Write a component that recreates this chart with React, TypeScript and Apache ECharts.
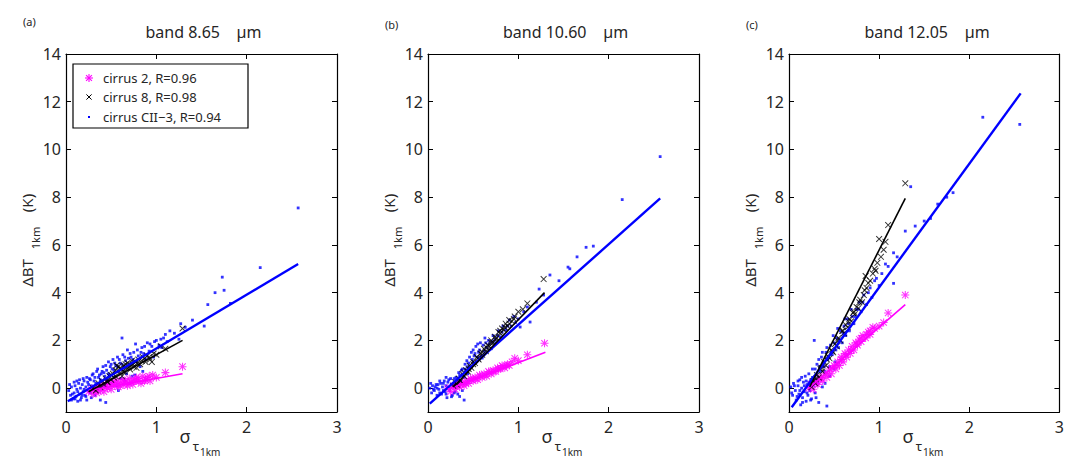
import React, { useEffect, useRef } from "react";
import * as echarts from "echarts";

const X_TICKS = [0, 1, 2, 3];
const Y_TICKS = [0, 2, 4, 6, 8, 10, 12, 14];
const BANDS = ["band 8.65", "band 10.60", "band 12.05"];
const UNIT = "\u00b5m";
const PANEL_LABELS = ["(a)", "(b)", "(c)"];
const SERIES_NAMES = ["cirrus 2, R=0.96", "cirrus 8, R=0.98", "cirrus CII\u22123, R=0.94"];

// Panel (a) band 8.65
const a_c2: number[][] = [[0.25,-0.15],[0.28,-0.05],[0.3,-0.25],[0.32,0.0],[0.34,-0.2],[0.36,0.05],[0.38,-0.1],[0.4,0.1],[0.42,-0.15],[0.44,0.15],[0.46,0.0],[0.48,0.2],[0.5,-0.05],[0.52,0.25],[0.54,0.1],[0.56,0.3],[0.58,0.05],[0.6,0.2],[0.62,0.35],[0.64,0.15],[0.66,0.3],[0.68,0.1],[0.7,0.4],[0.72,0.25],[0.74,0.15],[0.76,0.35],[0.78,0.45],[0.8,0.3],[0.83,0.2],[0.85,0.5],[0.88,0.35],[0.9,0.45],[0.93,0.3],[0.96,0.55],[1.0,0.45],[1.1,0.65],[1.29,0.9],[0.35,-0.1],[0.45,0.05],[0.5,0.15],[0.55,0.2],[0.6,0.1],[0.65,0.25],[0.7,0.2],[0.75,0.3],[0.8,0.4],[0.87,0.3],[0.92,0.5]];
const a_c8: number[][] = [[0.3,0.0],[0.33,-0.1],[0.36,0.2],[0.38,0.05],[0.4,0.3],[0.42,0.15],[0.44,0.4],[0.46,0.25],[0.48,0.5],[0.5,0.35],[0.52,0.6],[0.53,0.45],[0.55,0.75],[0.56,0.95],[0.58,0.9],[0.6,0.65],[0.61,0.8],[0.62,0.5],[0.64,0.95],[0.65,0.7],[0.67,0.85],[0.68,1.05],[0.71,0.78],[0.72,0.95],[0.73,1.15],[0.75,0.9],[0.77,1.1],[0.78,0.85],[0.8,1.2],[0.82,1.0],[0.85,1.3],[0.88,1.1],[0.9,1.35],[0.93,1.2],[0.95,1.1],[0.97,1.45],[1.0,1.4],[1.05,1.75],[1.1,1.65],[1.29,2.5],[0.45,0.3],[0.5,0.55],[0.55,0.5],[0.6,0.85],[0.63,0.7],[0.66,1.0],[0.7,0.9],[0.74,1.0],[0.79,1.05],[0.84,1.15],[0.87,1.25],[0.92,1.3]];
const a_cii: number[][] = [[0.03,-0.1],[0.05,-0.3],[0.06,0.05],[0.08,-0.45],[0.09,-0.2],[0.1,0.1],[0.11,-0.35],[0.12,-0.05],[0.13,-0.55],[0.14,0.2],[0.15,-0.25],[0.16,0.0],[0.17,-0.4],[0.18,0.15],[0.19,-0.15],[0.2,0.3],[0.21,-0.3],[0.22,0.05],[0.23,-0.5],[0.24,0.25],[0.25,-0.1],[0.26,0.4],[0.27,-0.2],[0.28,0.1],[0.29,0.55],[0.3,-0.05],[0.31,0.3],[0.32,-0.3],[0.33,0.2],[0.34,0.7],[0.35,0.0],[0.36,0.45],[0.37,0.15],[0.38,-0.5],[0.39,0.6],[0.4,0.3],[0.41,0.9],[0.42,0.1],[0.43,0.5],[0.44,-0.6],[0.45,0.75],[0.46,0.35],[0.47,1.1],[0.48,0.55],[0.5,0.2],[0.51,0.8],[0.52,1.2],[0.53,0.45],[0.55,0.95],[0.56,0.1],[0.57,1.3],[0.58,0.7],[0.6,1.05],[0.61,0.4],[0.62,2.1],[0.63,1.4],[0.64,0.85],[0.66,1.15],[0.67,0.6],[0.68,1.6],[0.7,1.0],[0.72,1.3],[0.73,0.5],[0.75,1.5],[0.77,1.85],[0.78,1.1],[0.8,1.35],[0.82,0.9],[0.84,1.7],[0.86,1.45],[0.88,1.2],[0.9,1.9],[0.92,1.55],[0.95,1.75],[0.97,1.3],[1.0,2.0],[1.03,1.8],[1.06,1.7],[1.08,2.1],[1.12,1.95],[1.2,2.3],[1.25,2.05],[1.27,2.7],[1.32,2.55],[1.4,2.85],[1.53,2.6],[1.57,3.5],[1.65,4.0],[1.73,4.65],[1.75,4.1],[1.82,3.55],[2.15,5.05],[2.57,7.55],
  [0.04,0.15],[0.06,-0.5],[0.07,-0.25],[0.09,0.25],[0.1,-0.45],[0.12,0.3],[0.13,-0.15],[0.15,0.35],[0.16,-0.5],[0.18,-0.3],[0.19,0.4],[0.2,-0.05],[0.22,-0.35],[0.23,0.45],[0.25,0.15],[0.27,0.35],[0.28,-0.4],[0.3,0.6],[0.32,0.45],[0.33,-0.1],[0.35,0.8],[0.37,0.55],[0.38,0.35],[0.4,0.7],[0.42,0.65],[0.44,0.95],[0.45,0.25],[0.47,0.6],[0.49,0.9],[0.5,1.0],[0.53,0.75],[0.54,1.05],[0.57,0.9],[0.59,1.2],[0.62,1.0],[0.65,1.3],[0.69,1.25],[0.71,1.45],[0.74,1.2],[0.79,1.6],[0.83,1.5],[0.87,1.75],[0.93,1.85],[0.98,1.95],[1.05,2.05],[1.1,2.25],[1.15,2.4],[0.58,-0.1],[0.65,0.3],[0.7,0.2],[0.76,0.55],[0.85,0.7]];
const a_fit_c2: number[][] = [[0.25,-0.1],[1.29,0.6]];
const a_fit_c8: number[][] = [[0.25,-0.15],[1.29,2.0]];
const a_fit_cii: number[][] = [[0.02,-0.55],[2.57,5.2]];

// Panel (b) band 10.60
const b_c2: number[][] = [[0.22,0.0],[0.25,-0.15],[0.28,0.1],[0.3,-0.05],[0.33,0.15],[0.35,0.05],[0.38,0.2],[0.4,0.1],[0.42,0.3],[0.45,0.2],[0.47,0.4],[0.5,0.3],[0.52,0.45],[0.55,0.35],[0.57,0.55],[0.6,0.45],[0.62,0.6],[0.65,0.5],[0.67,0.7],[0.7,0.6],[0.72,0.75],[0.75,0.7],[0.77,0.85],[0.8,0.8],[0.82,0.95],[0.85,0.85],[0.88,1.0],[0.9,0.95],[0.93,1.1],[0.96,1.25],[1.0,1.15],[1.1,1.4],[1.29,1.88],[0.3,0.1],[0.36,0.15],[0.42,0.2],[0.48,0.35],[0.53,0.4],[0.58,0.5],[0.63,0.55],[0.68,0.65],[0.73,0.7],[0.78,0.8],[0.83,0.9],[0.87,0.95]];
const b_c8: number[][] = [[0.28,0.1],[0.3,0.25],[0.32,0.15],[0.34,0.4],[0.36,0.3],[0.38,0.6],[0.4,0.5],[0.42,0.75],[0.44,0.7],[0.46,0.95],[0.48,0.85],[0.5,1.1],[0.52,1.05],[0.54,1.3],[0.56,1.2],[0.58,1.45],[0.6,1.4],[0.62,1.65],[0.64,1.55],[0.66,1.8],[0.68,1.75],[0.7,2.0],[0.72,1.9],[0.74,2.15],[0.76,2.1],[0.78,2.35],[0.8,2.3],[0.82,2.5],[0.84,2.45],[0.86,2.7],[0.88,2.6],[0.9,2.85],[0.93,2.8],[0.96,3.0],[1.0,3.2],[1.05,3.3],[1.1,3.55],[1.28,4.57],[0.4,0.65],[0.45,0.8],[0.5,1.0],[0.55,1.25],[0.6,1.5],[0.65,1.7],[0.7,1.9],[0.75,2.05],[0.8,2.4],[0.85,2.55],[0.9,2.7],[0.95,2.9]];
const b_cii: number[][] = [[0.02,0.0],[0.04,-0.2],[0.05,0.1],[0.07,-0.1],[0.08,0.05],[0.1,-0.3],[0.11,0.15],[0.12,-0.05],[0.14,0.2],[0.15,-0.25],[0.16,0.05],[0.18,0.3],[0.19,-0.15],[0.2,0.1],[0.21,-0.4],[0.22,0.25],[0.24,-0.1],[0.25,0.4],[0.26,-0.36],[0.27,-0.3],[0.28,0.2],[0.3,-0.15],[0.31,0.45],[0.32,0.1],[0.34,0.65],[0.35,-0.35],[0.36,0.3],[0.38,0.8],[0.39,0.5],[0.4,-0.5],[0.41,1.0],[0.42,0.7],[0.43,1.15],[0.44,0.9],[0.46,1.3],[0.47,0.85],[0.48,1.5],[0.5,1.1],[0.52,1.45],[0.53,1.75],[0.55,1.3],[0.57,1.6],[0.58,1.9],[0.6,1.26],[0.61,1.8],[0.63,2.1],[0.65,1.7],[0.67,2.0],[0.7,1.65],[0.72,2.2],[0.75,1.9],[0.78,2.4],[0.8,2.15],[0.83,2.6],[0.86,2.45],[0.9,2.85],[0.92,2.6],[0.95,3.0],[1.0,2.9],[1.02,2.56],[1.06,3.2],[1.13,2.77],[1.1,3.4],[1.2,3.6],[1.23,4.15],[1.28,3.9],[1.35,4.74],[1.45,4.5],[1.55,5.07],[1.57,5.0],[1.65,5.5],[1.75,5.9],[1.83,5.95],[2.15,7.9],[2.57,9.7],
  [0.03,0.2],[0.06,-0.05],[0.09,0.15],[0.1,0.0],[0.13,-0.2],[0.13,0.3],[0.17,-0.1],[0.17,0.2],[0.2,-0.25],[0.23,0.0],[0.23,0.35],[0.26,0.15],[0.29,0.4],[0.29,-0.2],[0.31,0.1],[0.33,0.3],[0.35,0.55],[0.37,0.2],[0.37,0.75],[0.4,0.45],[0.41,0.8],[0.44,0.6],[0.45,1.05],[0.48,0.9],[0.49,1.2],[0.51,1.35],[0.54,1.1],[0.56,1.5],[0.59,1.35],[0.62,1.55],[0.64,1.9],[0.68,1.85],[0.71,1.95],[0.74,2.05],[0.77,2.2],[0.82,2.35],[0.88,2.6],[0.97,2.75],[0.55,1.85],[0.5,1.6],[0.45,0.3],[0.42,0.2],[0.38,-0.1],[0.33,-0.25],[0.2,0.45]];
const b_fit_c2: number[][] = [[0.22,-0.05],[1.3,1.5]];
const b_fit_c8: number[][] = [[0.28,0.05],[1.29,4.0]];
const b_fit_cii: number[][] = [[0.02,-0.65],[2.57,7.95]];

// Panel (c) band 12.05
const c_c2: number[][] = [[0.22,0.0],[0.25,0.15],[0.27,-0.05],[0.3,0.3],[0.32,0.15],[0.35,0.45],[0.37,0.3],[0.4,0.6],[0.42,0.45],[0.45,0.8],[0.47,0.6],[0.5,0.95],[0.52,0.8],[0.54,1.1],[0.56,0.95],[0.58,1.3],[0.6,1.1],[0.62,1.45],[0.64,1.3],[0.66,1.6],[0.68,1.45],[0.7,1.75],[0.72,1.6],[0.74,1.9],[0.76,1.8],[0.78,2.05],[0.8,1.95],[0.82,2.2],[0.85,2.1],[0.88,2.35],[0.9,2.25],[0.93,2.55],[0.95,2.5],[1.0,2.6],[1.05,2.75],[1.1,3.15],[1.29,3.9],[0.3,0.2],[0.36,0.4],[0.43,0.6],[0.48,0.85],[0.53,0.95],[0.58,1.2],[0.63,1.4],[0.69,1.6],[0.75,1.85],[0.8,2.1],[0.86,2.25],[0.9,2.4]];
const c_c8: number[][] = [[0.25,0.05],[0.27,0.3],[0.29,0.2],[0.31,0.55],[0.33,0.45],[0.35,0.8],[0.37,0.7],[0.39,1.1],[0.41,0.95],[0.43,1.35],[0.45,1.25],[0.47,1.6],[0.49,1.5],[0.51,1.85],[0.53,1.75],[0.55,2.1],[0.57,2.0],[0.59,2.4],[0.61,2.3],[0.63,2.65],[0.65,2.55],[0.67,2.9],[0.69,2.8],[0.71,3.15],[0.73,3.1],[0.75,3.4],[0.77,3.35],[0.79,3.7],[0.81,3.6],[0.83,3.9],[0.85,4.7],[0.86,4.2],[0.9,4.5],[0.93,4.8],[0.96,4.92],[0.98,5.25],[1.0,6.25],[1.02,5.5],[1.05,5.8],[1.07,6.13],[1.1,6.83],[1.29,8.58],[0.3,0.4],[0.36,0.85],[0.42,1.2],[0.48,1.55],[0.54,2.0],[0.6,2.4],[0.66,2.8],[0.72,3.2],[0.78,3.6],[0.84,4.1],[0.88,4.4],[0.95,5.0]];
const c_cii: number[][] = [[0.02,0.05],[0.04,-0.3],[0.05,0.2],[0.07,-0.1],[0.08,-0.5],[0.1,0.1],[0.11,-0.25],[0.12,0.35],[0.13,-0.7],[0.14,0.0],[0.15,-0.4],[0.16,0.25],[0.17,-0.15],[0.18,0.5],[0.19,-0.55],[0.2,0.15],[0.21,-0.3],[0.22,0.6],[0.23,-0.1],[0.24,0.35],[0.25,-0.45],[0.26,0.8],[0.27,0.1],[0.28,2.0],[0.29,-0.2],[0.3,0.55],[0.31,1.0],[0.32,0.2],[0.33,-0.6],[0.34,0.9],[0.35,0.4],[0.36,1.3],[0.37,0.05],[0.38,1.1],[0.4,0.7],[0.41,1.5],[0.42,-0.75],[0.43,1.2],[0.45,0.9],[0.46,1.8],[0.48,1.4],[0.5,1.9],[0.51,1.1],[0.53,2.1],[0.55,1.7],[0.57,2.4],[0.59,1.9],[0.61,2.6],[0.63,2.2],[0.65,2.9],[0.67,2.4],[0.7,3.0],[0.72,2.7],[0.75,3.3],[0.78,3.6],[0.8,3.2],[0.83,3.9],[0.86,3.5],[0.9,4.2],[0.95,4.5],[1.0,4.3],[1.07,5.2],[1.16,5.67],[1.16,4.39],[1.2,5.5],[1.29,6.58],[1.35,8.44],[1.4,6.79],[1.5,7.0],[1.57,7.11],[1.65,7.71],[1.75,8.0],[1.82,8.19],[2.15,11.35],[2.56,11.05],
  [0.03,-0.2],[0.06,0.1],[0.09,-0.35],[0.1,0.3],[0.12,-0.1],[0.14,0.45],[0.15,-0.6],[0.17,0.1],[0.19,0.3],[0.2,-0.2],[0.22,0.25],[0.24,-0.5],[0.26,0.45],[0.28,0.2],[0.29,0.8],[0.31,0.3],[0.33,1.2],[0.35,0.7],[0.37,1.5],[0.39,0.9],[0.42,1.7],[0.44,1.3],[0.47,1.5],[0.49,2.2],[0.52,1.6],[0.54,2.5],[0.56,2.0],[0.6,2.3],[0.62,2.9],[0.66,2.7],[0.69,3.3],[0.73,3.0],[0.77,3.3],[0.82,3.6],[0.88,4.0],[0.92,3.8],[0.97,4.6],[1.03,4.8],[1.1,5.1],[0.3,-0.4],[0.4,0.2],[0.45,0.5],[0.5,0.8]];
const c_fit_c2: number[][] = [[0.22,0.0],[1.29,3.5]];
const c_fit_c8: number[][] = [[0.23,0.05],[1.29,7.95]];
const c_fit_cii: number[][] = [[0.03,-0.8],[2.57,12.35]];

const PANELS = [
  { c2: a_c2, c8: a_c8, cii: a_cii, f2: a_fit_c2, f8: a_fit_c8, fcii: a_fit_cii },
  { c2: b_c2, c8: b_c8, cii: b_cii, f2: b_fit_c2, f8: b_fit_c8, fcii: b_fit_cii },
  { c2: c_c2, c8: c_c8, cii: c_cii, f2: c_fit_c2, f8: c_fit_c8, fcii: c_fit_cii },
];

const GRID_LEFT = [66, 428, 789];
const GRID_WIDTH = [271, 271, 272];
const GRID_TOP = 54;
const GRID_HEIGHT = 358;

const MAGENTA = "#ff00ff";
const BLUE = "#0000ff";
const BLACK = "#000000";
const TEXT = "#262626";
const FONT = "Noto Sans";

const ASTERISK =
  "path://M8.7 0L11.3 0L11.3 20L8.7 20Z M0 8.7L20 8.7L20 11.3L0 11.3Z M2.92 1.08L18.92 17.08L17.08 18.92L1.08 2.92Z M17.08 1.08L18.92 2.92L2.92 18.92L1.08 17.08Z";
const XMARK =
  "path://M2.92 1.08L18.92 17.08L17.08 18.92L1.08 2.92Z M17.08 1.08L18.92 2.92L2.92 18.92L1.08 17.08Z";

export default function App() {
  const ref = useRef<HTMLDivElement>(null);

  useEffect(() => {
    if (!ref.current) return;
    const chart = echarts.init(ref.current, null, { renderer: "svg" });

    const grids: any[] = [];
    const xAxes: any[] = [];
    const yAxes: any[] = [];
    const series: any[] = [];
    const graphics: any[] = [];

    PANELS.forEach((p, i) => {
      const gl = GRID_LEFT[i];
      grids.push({ left: gl, top: GRID_TOP, width: GRID_WIDTH[i], height: GRID_HEIGHT, show: false });
      const xBase = {
        type: "value", gridIndex: i, min: X_TICKS[0], max: X_TICKS[X_TICKS.length - 1], interval: 1,
        splitLine: { show: false },
        axisLine: { show: true, onZero: false, lineStyle: { color: BLACK, width: 1.2 } },
        axisTick: { show: true, inside: true, length: 5, lineStyle: { color: BLACK } },
      };
      xAxes.push({
        ...xBase, position: "bottom",
        axisLabel: { show: true, fontSize: 16, color: TEXT, fontFamily: FONT, margin: 7 },
      });
      xAxes.push({ ...xBase, position: "top", axisLabel: { show: false } });
      const yBase = {
        type: "value", gridIndex: i, min: -1, max: 14,
        splitLine: { show: false },
        axisLine: { show: true, onZero: false, lineStyle: { color: BLACK, width: 1.2 } },
        axisTick: { show: true, inside: true, length: 5, customValues: Y_TICKS, lineStyle: { color: BLACK } },
      };
      yAxes.push({
        ...yBase, position: "left",
        axisLabel: { show: true, fontSize: 16, color: TEXT, fontFamily: FONT, margin: 5, customValues: Y_TICKS },
      });
      yAxes.push({ ...yBase, position: "right", axisLabel: { show: false, customValues: Y_TICKS } });

      const xi = i * 2;
      const yi = i * 2;
      series.push({
        name: SERIES_NAMES[2], type: "scatter", xAxisIndex: xi, yAxisIndex: yi, data: p.cii,
        symbol: "rect", symbolSize: 2.8, itemStyle: { color: BLUE }, z: 2,
      });
      series.push({
        name: SERIES_NAMES[0], type: "scatter", xAxisIndex: xi, yAxisIndex: yi, data: p.c2,
        symbol: ASTERISK, symbolSize: 8, itemStyle: { color: MAGENTA }, z: 3,
      });
      series.push({
        name: SERIES_NAMES[1], type: "scatter", xAxisIndex: xi, yAxisIndex: yi, data: p.c8,
        symbol: XMARK, symbolSize: 6.5, itemStyle: { color: BLACK }, z: 4,
      });
      series.push({
        name: SERIES_NAMES[2] + " fit", type: "line", xAxisIndex: xi, yAxisIndex: yi, data: p.fcii,
        symbol: "none", lineStyle: { color: BLUE, width: 2.4 }, z: 5,
      });
      series.push({
        name: SERIES_NAMES[0] + " fit", type: "line", xAxisIndex: xi, yAxisIndex: yi, data: p.f2,
        symbol: "none", lineStyle: { color: MAGENTA, width: 1.6 }, z: 5,
      });
      series.push({
        name: SERIES_NAMES[1] + " fit", type: "line", xAxisIndex: xi, yAxisIndex: yi, data: p.f8,
        symbol: "none", lineStyle: { color: BLACK, width: 1.6 }, z: 5,
      });

      // Title
      const cx = gl + GRID_WIDTH[i] / 2 + 2;
      graphics.push({
        type: "text", x: cx, y: 32,
        style: {
          text: BANDS[i] + "\u00a0\u00a0\u00a0\u00a0" + UNIT,
          textAlign: "center", textVerticalAlign: "middle", fontSize: 16, fontFamily: FONT, fill: TEXT,
        },
      });
      // Panel label
      graphics.push({
        type: "text", x: gl - 43, y: i === 0 ? 21 : 24,
        style: { text: PANEL_LABELS[i], textAlign: "left", textVerticalAlign: "middle", fontSize: 11, fontFamily: FONT, fill: TEXT },
      });
      // Y axis name
      graphics.push({
        type: "text", x: gl - 39, y: 273, rotation: Math.PI / 2,
        style: { text: "\u0394BT", textAlign: "center", textVerticalAlign: "middle", fontSize: 15, fontFamily: FONT, fill: TEXT },
      });
      graphics.push({
        type: "text", x: gl - 31, y: 238, rotation: Math.PI / 2,
        style: { text: "1km", textAlign: "center", textVerticalAlign: "middle", fontSize: 11, fontFamily: FONT, fill: TEXT },
      });
      graphics.push({
        type: "text", x: gl - 39, y: 203, rotation: Math.PI / 2,
        style: { text: "(K)", textAlign: "center", textVerticalAlign: "middle", fontSize: 15, fontFamily: FONT, fill: TEXT },
      });
      // X axis name
      graphics.push({
        type: "text", x: gl + 119, y: 436,
        style: { text: "\u03c3", textAlign: "center", textVerticalAlign: "middle", fontSize: 18, fontFamily: FONT, fill: TEXT },
      });
      graphics.push({
        type: "text", x: gl + 130, y: 446,
        style: { text: "\u03c4", textAlign: "center", textVerticalAlign: "middle", fontSize: 13, fontFamily: FONT, fill: TEXT },
      });
      graphics.push({
        type: "text", x: gl + 134, y: 452,
        style: { text: "1km", textAlign: "left", textVerticalAlign: "middle", fontSize: 10, fontFamily: FONT, fill: TEXT },
      });
    });

    // Legend box (panel a)
    const lx = 73, ly = 64;
    graphics.push({
      type: "rect", shape: { x: lx, y: ly, width: 175, height: 64 },
      style: { fill: "#ffffff", stroke: BLACK, lineWidth: 1.2 }, z: 10,
    });
    const mx = 89;
    const rows = [78, 97, 117];
    const r = 4;
    graphics.push({ type: "line", shape: { x1: mx - r, y1: rows[0], x2: mx + r, y2: rows[0] }, style: { stroke: MAGENTA, lineWidth: 1.1 }, z: 11 });
    graphics.push({ type: "line", shape: { x1: mx, y1: rows[0] - r, x2: mx, y2: rows[0] + r }, style: { stroke: MAGENTA, lineWidth: 1.1 }, z: 11 });
    graphics.push({ type: "line", shape: { x1: mx - 2.9, y1: rows[0] - 2.9, x2: mx + 2.9, y2: rows[0] + 2.9 }, style: { stroke: MAGENTA, lineWidth: 1.1 }, z: 11 });
    graphics.push({ type: "line", shape: { x1: mx - 2.9, y1: rows[0] + 2.9, x2: mx + 2.9, y2: rows[0] - 2.9 }, style: { stroke: MAGENTA, lineWidth: 1.1 }, z: 11 });
    graphics.push({ type: "line", shape: { x1: mx - 2.6, y1: rows[1] - 2.6, x2: mx + 2.6, y2: rows[1] + 2.6 }, style: { stroke: BLACK, lineWidth: 1 }, z: 11 });
    graphics.push({ type: "line", shape: { x1: mx - 2.6, y1: rows[1] + 2.6, x2: mx + 2.6, y2: rows[1] - 2.6 }, style: { stroke: BLACK, lineWidth: 1 }, z: 11 });
    graphics.push({ type: "rect", shape: { x: mx - 1, y: rows[2] - 1, width: 2, height: 2 }, style: { fill: BLUE }, z: 11 });
    SERIES_NAMES.forEach((n, k) => {
      graphics.push({
        type: "text", x: 103, y: rows[k], z: 11,
        style: { text: n, textAlign: "left", textVerticalAlign: "middle", fontSize: 13, fontFamily: FONT, fill: TEXT },
      });
    });

    chart.setOption({
      animation: false,
      backgroundColor: "#ffffff",
      grid: grids,
      xAxis: xAxes,
      yAxis: yAxes,
      series,
      graphic: graphics,
    });

    return () => chart.dispose();
  }, []);

  return (
    <div
      ref={ref}
      style={{ position: "absolute", left: 0, top: 0, width: 1067, height: 459 }}
    />
  );
}
